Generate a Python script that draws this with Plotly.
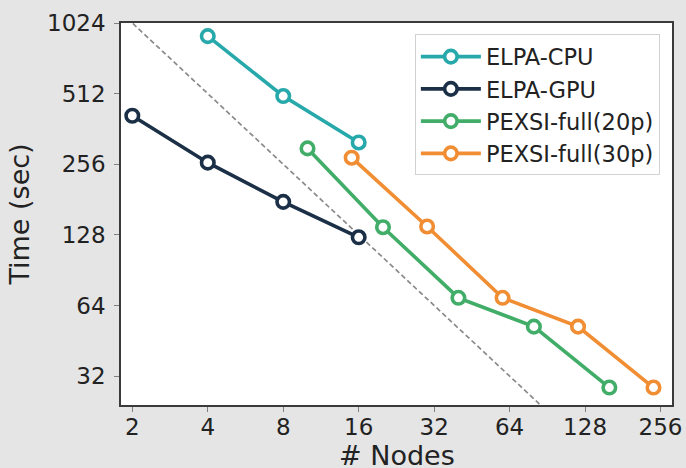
import plotly.graph_objects as go

# ---- data ----
cpu_nodes = [4, 8, 16]
cpu_time = [900, 500, 317]

gpu_nodes = [2, 4, 8, 16]
gpu_time = [412, 260, 177, 125]

p20_nodes = [10, 20, 40, 80, 160]
p20_time = [299, 138, 69, 52, 28.6]

p30_nodes = [15, 30, 60, 120, 240]
p30_time = [273, 139, 69, 52, 28.6]

ideal_nodes = [1, 512]
ideal_time = [2048, 4]

x_ticks = [2, 4, 8, 16, 32, 64, 128, 256]
y_ticks = [32, 64, 128, 256, 512, 1024]

series = [
    ("ELPA-CPU", cpu_nodes, cpu_time, "#27a8aa"),
    ("ELPA-GPU", gpu_nodes, gpu_time, "#1b3047"),
    ("PEXSI-full(20p)", p20_nodes, p20_time, "#41ad68"),
    ("PEXSI-full(30p)", p30_nodes, p30_time, "#f18d32"),
]

fig = go.Figure()
fig.add_trace(go.Scatter(
    x=ideal_nodes, y=ideal_time, mode="lines", showlegend=False,
    line=dict(color="#8a8a8a", width=1.7, dash="5px,3px"), hoverinfo="skip",
))
for name, xs, ys, col in series:
    fig.add_trace(go.Scatter(
        x=xs, y=ys, name=name, mode="lines+markers",
        line=dict(color=col, width=3.6),
        marker=dict(symbol="circle", size=12.5, color="white",
                    line=dict(color=col, width=3.6)),
    ))

axis_common = dict(
    showline=True, linecolor="#3a3a3a", linewidth=1.5, mirror=True,
    ticks="outside", ticklen=5, tickwidth=1.2, tickcolor="#808080",
    showgrid=False, zeroline=False,
    tickfont=dict(size=23, color="#222222"),
)

fig.update_layout(
    width=686, height=468,
    paper_bgcolor="#e5e5e5", plot_bgcolor="white",
    font=dict(family="DejaVu Sans", color="#222222"),
    margin=dict(l=121, r=14, t=23, b=63, autoexpand=False),
    xaxis=dict(type="log", range=[0.2559, 2.454], tickvals=x_ticks,
               ticktext=[str(v) for v in x_ticks], ticklabelstandoff=-4,
               automargin=False, **axis_common),
    yaxis=dict(type="log", range=[1.382, 3.0103], tickvals=y_ticks,
               ticktext=[str(v) for v in y_ticks], ticklabelstandoff=4,
               title=dict(text="Time (sec)", font=dict(size=27), standoff=10),
               automargin=False, **axis_common),
    legend=dict(x=0.978, y=0.970, xanchor="right", yanchor="top",
                bgcolor="white", bordercolor="#d2d2d2", borderwidth=1,
                font=dict(size=22.5, color="#222222"), itemwidth=60,
                tracegroupgap=0),
    showlegend=True,
    annotations=[dict(text="# Nodes", xref="paper", yref="paper",
                      x=0.5, y=-0.086, xanchor="center", yanchor="top",
                      showarrow=False, font=dict(size=27, color="#222222"))],
)

fig.write_html("out.html", config={"displayModeBar": False},
               post_script="document.body.style.margin='0';document.body.style.overflow='hidden';")
